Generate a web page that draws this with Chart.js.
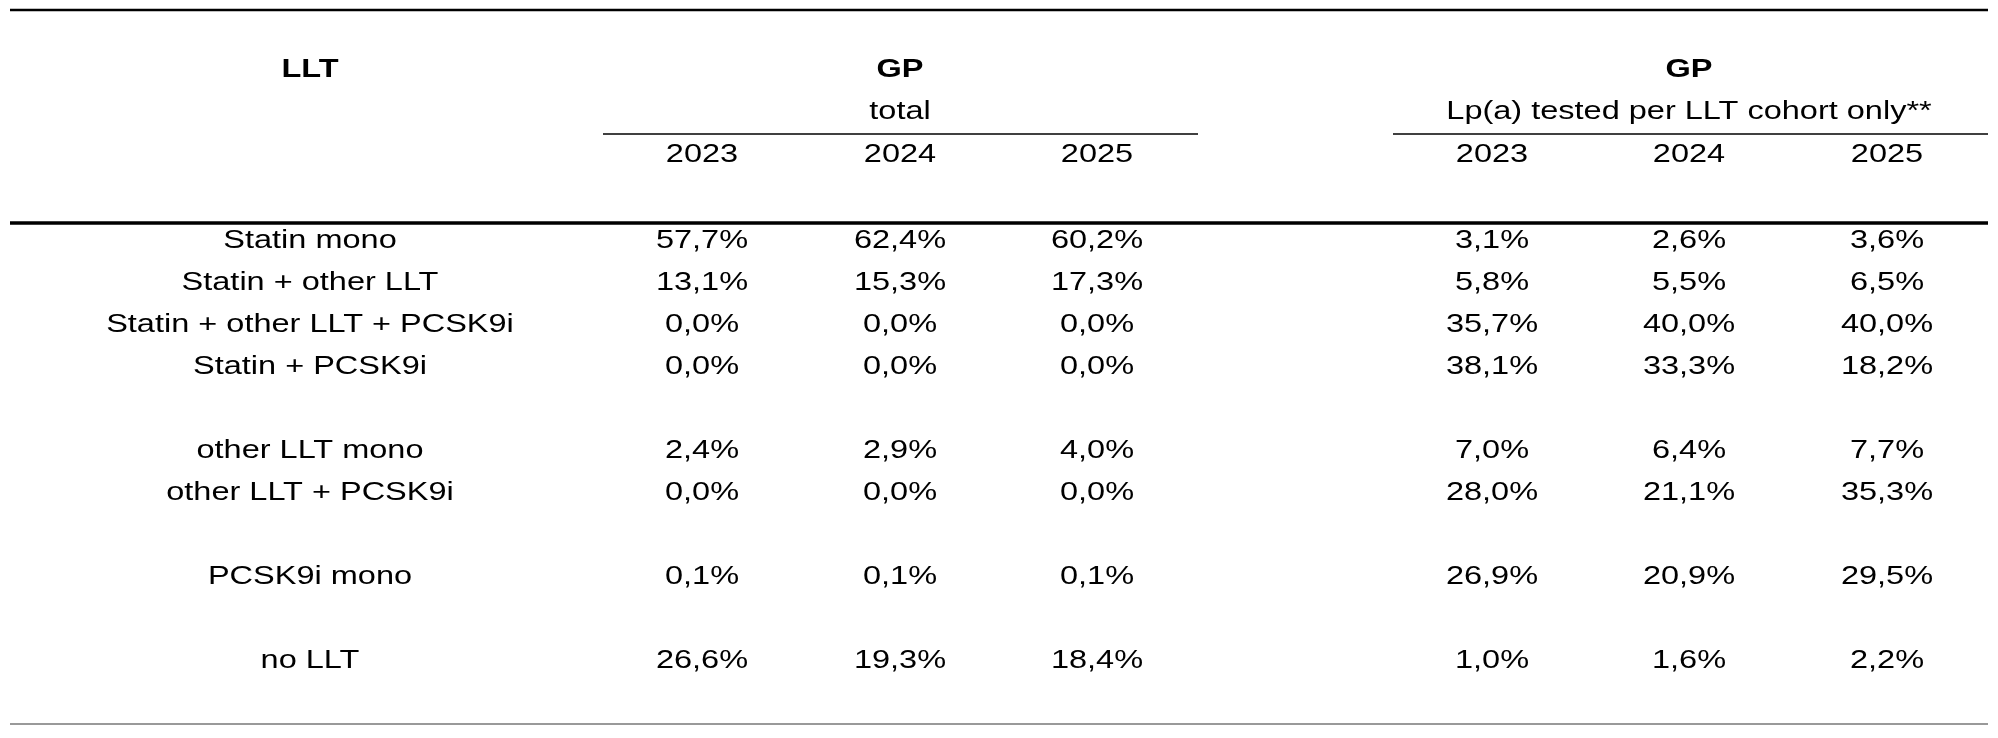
<!DOCTYPE html>
<html>
<head>
<meta charset="utf-8">
<script src="https://cdn.jsdelivr.net/npm/chart.js@4/dist/chart.umd.min.js"></script>
<style>
  body { margin: 0; background: #fff; }
  canvas { display: block; }
</style>
</head>
<body>
<canvas id="tbl" width="1998" height="738"></canvas>
<script>
// table data
const rowLabels = ["Statin mono", "Statin + other LLT", "Statin + other LLT + PCSK9i", "Statin + PCSK9i",
  "other LLT mono", "other LLT + PCSK9i", "PCSK9i mono", "no LLT"];
const years = ["2023", "2024", "2025"];
const gpTotal = [
  [57.7, 62.4, 60.2], [13.1, 15.3, 17.3], [0.0, 0.0, 0.0], [0.0, 0.0, 0.0],
  [2.4, 2.9, 4.0], [0.0, 0.0, 0.0], [0.1, 0.1, 0.1], [26.6, 19.3, 18.4]
];
const gpTested = [
  [3.1, 2.6, 3.6], [5.8, 5.5, 6.5], [35.7, 40.0, 40.0], [38.1, 33.3, 18.2],
  [7.0, 6.4, 7.7], [28.0, 21.1, 35.3], [26.9, 20.9, 29.5], [1.0, 1.6, 2.2]
];

// layout (in scale units = pixels)
const labelX = 310;
const leftCols = [702, 900, 1097];
const rightCols = [1492, 1689, 1887];
const rowY = [241, 283, 325, 367, 451, 493, 577, 661];
const stretch = 1.3; // text in the source is horizontally widened

const fmt = v => v.toFixed(1).replace(".", ",") + "%";

const tablePlugin = {
  id: "table",
  afterDraw(chart) {
    const ctx = chart.ctx, xs = chart.scales.x, ys = chart.scales.y;
    const X = v => xs.getPixelForValue(v), Y = v => ys.getPixelForValue(v);
    const font = '"Liberation Sans", Arial, sans-serif';
    ctx.save();
    ctx.fillStyle = "#000";
    ctx.textAlign = "center";
    ctx.textBaseline = "middle";
    const line = (x1, x2, y, w, c) => {
      ctx.beginPath(); ctx.strokeStyle = c; ctx.lineWidth = w;
      ctx.moveTo(X(x1), Y(y)); ctx.lineTo(X(x2), Y(y)); ctx.stroke();
    };
    const text = (s, x, y) => {
      ctx.save();
      ctx.translate(X(x), Y(y));
      ctx.scale(stretch, 1);
      ctx.fillText(s, 0, 0);
      ctx.restore();
    };
    line(10, 1988, 10, 2.5, "#000");
    line(10, 1988, 223, 3.5, "#000");
    line(10, 1988, 724, 1.5, "#777");
    line(603, 1198, 134, 1.3, "#000");
    line(1393, 1988, 134, 1.3, "#000");

    ctx.font = "bold 25px " + font;
    text("LLT", labelX, 70);
    text("GP", leftCols[1], 70);
    text("GP", rightCols[1], 70);
    ctx.font = "25px " + font;
    text("total", leftCols[1], 112);
    text("Lp(a) tested per LLT cohort only**", rightCols[1], 112);
    years.forEach((yr, i) => {
      text(yr, leftCols[i], 155);
      text(yr, rightCols[i], 155);
    });
    rowLabels.forEach((lab, r) => {
      text(lab, labelX, rowY[r]);
      gpTotal[r].forEach((v, i) => text(fmt(v), leftCols[i], rowY[r]));
      gpTested[r].forEach((v, i) => text(fmt(v), rightCols[i], rowY[r]));
    });
    ctx.restore();
  }
};

new Chart(document.getElementById("tbl"), {
  type: "scatter",
  data: { datasets: [{ data: [] }] },
  options: {
    responsive: false,
    animation: false,
    events: [],
    layout: { padding: 0 },
    plugins: { legend: { display: false }, tooltip: { enabled: false } },
    scales: {
      x: { type: "linear", min: 0, max: 1998, display: false },
      y: { type: "linear", min: 0, max: 738, reverse: true, display: false }
    }
  },
  plugins: [tablePlugin]
});
</script>
</body>
</html>
